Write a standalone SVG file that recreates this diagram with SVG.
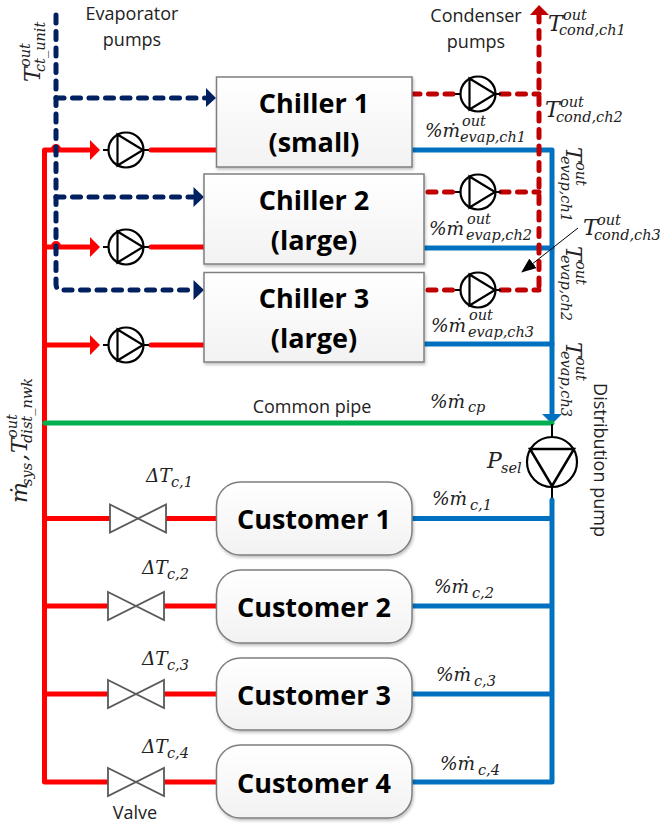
<svg xmlns="http://www.w3.org/2000/svg" width="660" height="825" viewBox="0 0 660 825">
<style>
.lbl{font-family:"Open Sans","Noto Sans",sans-serif;font-size:18px;fill:#222;text-anchor:middle}
.node{font-family:"Open Sans","Noto Sans",sans-serif;font-size:27px;font-weight:700;fill:#000;text-anchor:middle}
.m{font-family:"DejaVu Serif",serif;font-style:italic;font-size:22px;fill:#222}
.p{font-size:18.500px}
.s{font-size:14.500px}
.box{fill:url(#g);stroke:#7f7f7f;stroke-width:1.5;filter:url(#sh)}
.red{stroke:#f00;stroke-width:5;fill:none;stroke-linecap:round;stroke-linejoin:round}
.blue{stroke:#0070c0;stroke-width:5;fill:none;stroke-linecap:round;stroke-linejoin:round}
.navy{stroke:#002060;stroke-width:5;fill:none;stroke-dasharray:8 8.5;stroke-linecap:round}
.dk{stroke:#c00000;stroke-width:5;fill:none;stroke-dasharray:8 8.5;stroke-linecap:round}
.pump{fill:#fff;stroke:#000;stroke-width:2.2}
.stub{stroke:#000;stroke-width:2;fill:none}
.valve{fill:#fff;stroke:#595959;stroke-width:1.8}
</style>
<defs>
<linearGradient id="g" x1="0" y1="0" x2="0" y2="1"><stop offset="0" stop-color="#fff"/><stop offset="1" stop-color="#f2f2f2"/></linearGradient>
<filter id="sh" x="-5%" y="-5%" width="110%" height="115%"><feDropShadow dx="1" dy="2" stdDeviation="1.5" flood-color="#000" flood-opacity=".25"/></filter>
<marker id="blk" markerWidth="16" markerHeight="12" refX="14" refY="6" orient="auto" markerUnits="userSpaceOnUse"><path d="M0 0L15 6L0 12z" fill="#000"/></marker>
<g id="pumpR"><path class="stub" d="M-23 0H23"/><circle class="pump" r="17.5"/><path d="M-8.500-15.500L17 0L-8.500 15.500z" fill="none" stroke="#000" stroke-width="2.200"/></g>
<g id="valveS"><path class="valve" d="M-28-14L28 14V-14L-28 14z"/></g>
</defs>

<g id="connectors">
<path class="red" d="M89 150H44.500V782H108"/>
<path class="red" d="M44.500 247H89M44.500 345H89M44.500 518.500H110M44.500 606H108M44.500 694H108"/>
<path d="M51 149A5 5 0 0 1 61 149Z M51 246A5 5 0 0 1 61 246Z" fill="#f00"/>
<path d="M90 140L100 150L90 160z M90 237L100 247L90 257z M90 335L100 345L90 355z" fill="#f00"/>
<path class="red" d="M151 150H218M151 247H205M151 345H205"/>
<path class="red" d="M165 518.500H217M163 606H217M163 694H217M163 782H217"/>

<path class="navy" d="M56 15V284Q56 290 62 290H190"/>
<path class="navy" d="M56 98H205"/>
<path class="navy" d="M56 197H193"/>
<path d="M206 88L216 98L206 107z M193.500 187L204 197L193.500 207z M193.500 280L204 290L193.500 300z" fill="#002060"/>

<path class="blue" d="M411 150H552V418"/>
<path class="blue" d="M423 248H552M423 344H552"/>
<path class="blue" d="M552 500V782M411 518.500H552M411 606H552M411 694H552M411 782H552"/>
<path d="M542 414H562L552 424z" fill="#0070c0"/>
<path stroke="#00b050" stroke-width="5" stroke-linecap="round" fill="none" d="M45 423H552"/>

<path class="dk" d="M539 14V290"/>
<path class="dk" d="M412 94H455M501 94H539M428 192H455M501 192H539M428 290H455M501 290H539"/>
<path d="M530 15L539 5L549 15z" fill="#c00000"/>
<path class="stub" d="M552 424V437M552 487V498"/>
<path stroke="#000" stroke-width="1" fill="none" marker-end="url(#blk)" d="M578 228L522 272"/>
</g>

<g id="pump-e1"><use href="#pumpR" x="126" y="150"/></g>
<g id="pump-e2"><use href="#pumpR" x="126" y="247"/></g>
<g id="pump-e3"><use href="#pumpR" x="126" y="345"/></g>
<g id="pump-c1"><use href="#pumpR" x="478" y="94"/></g>
<g id="pump-c2"><use href="#pumpR" x="478" y="192"/></g>
<g id="pump-c3"><use href="#pumpR" x="478" y="290"/></g>
<g id="pump-dist"><circle class="pump" cx="552" cy="462" r="25"/><path d="M530 449H574L552 486z" fill="none" stroke="#000" stroke-width="2.500"/></g>

<g id="valve1"><use href="#valveS" x="138" y="518.500"/></g>
<g id="valve2"><use href="#valveS" x="136" y="606"/></g>
<g id="valve3"><use href="#valveS" x="136" y="694"/></g>
<g id="valve4"><use href="#valveS" x="136" y="782"/></g>

<g id="chiller1"><rect class="box" x="216.500" y="77" width="195.500" height="90"/><text class="node" x="314" y="113">Chiller 1</text><text class="node" x="314" y="152">(small)</text></g>
<g id="chiller2"><rect class="box" x="204" y="174" width="220" height="90"/><text class="node" x="314" y="210">Chiller 2</text><text class="node" x="314" y="250">(large)</text></g>
<g id="chiller3"><rect class="box" x="204" y="272.500" width="220" height="89.500"/><text class="node" x="314" y="308">Chiller 3</text><text class="node" x="314" y="348">(large)</text></g>

<g id="customer1"><rect class="box" x="216.500" y="482" width="195.500" height="73" rx="24"/><text class="node" x="314" y="529">Customer 1</text></g>
<g id="customer2"><rect class="box" x="216.500" y="570" width="195.500" height="73" rx="24"/><text class="node" x="314" y="617">Customer 2</text></g>
<g id="customer3"><rect class="box" x="216.500" y="658" width="195.500" height="72" rx="24"/><text class="node" x="314" y="705">Customer 3</text></g>
<g id="customer4"><rect class="box" x="216.500" y="745" width="195.500" height="73" rx="24"/><text class="node" x="314" y="793">Customer 4</text></g>

<g id="labels">
<text class="lbl" x="132" y="20">Evaporator</text><text class="lbl" x="132" y="46">pumps</text>
<text class="lbl" x="476" y="22">Condenser</text><text class="lbl" x="476" y="48">pumps</text>
<text class="lbl" x="312" y="413">Common pipe</text>
<text class="lbl" x="135" y="819">Valve</text>
<text class="lbl" transform="translate(594 460) rotate(90)">Distribution pump</text>

<text class="m" x="548" y="31">T<tspan class="s" x="563" y="20">out</tspan><tspan class="s" x="559" y="35">cond,ch1</tspan></text>
<text class="m" x="545" y="117">T<tspan class="s" x="560" y="107">out</tspan><tspan class="s" x="556" y="122">cond,ch2</tspan></text>
<text class="m" x="583" y="235">T<tspan class="s" x="597" y="225">out</tspan><tspan class="s" x="594" y="240">cond,ch3</tspan></text>

<text class="m p" x="425" y="137">%ṁ<tspan class="s" x="462" y="126">out</tspan><tspan class="s" x="460" y="142">evap,ch1</tspan></text>
<text class="m p" x="429" y="235">%ṁ<tspan class="s" x="467" y="224">out</tspan><tspan class="s" x="466" y="240">evap,ch2</tspan></text>
<text class="m p" x="431" y="332">%ṁ<tspan class="s" x="469" y="320">out</tspan><tspan class="s" x="468" y="337">evap,ch3</tspan></text>
<text class="m p" x="430" y="408">%ṁ<tspan class="s" x="468" y="412">cp</tspan></text>
<text class="m p" x="432" y="505">%ṁ<tspan class="s" x="470" y="510">c,1</tspan></text>
<text class="m p" x="434" y="593">%ṁ<tspan class="s" x="472" y="598">c,2</tspan></text>
<text class="m p" x="436" y="681">%ṁ<tspan class="s" x="474" y="686">c,3</tspan></text>
<text class="m p" x="440" y="770">%ṁ<tspan class="s" x="478" y="775">c,4</tspan></text>
<text class="m" x="487" y="468">P<tspan class="s" x="501" y="473">sel</tspan></text>
<text class="m p" x="146" y="482">ΔT<tspan class="s" x="171" y="487">c,1</tspan></text>
<text class="m p" x="142" y="574">ΔT<tspan class="s" x="167" y="579">c,2</tspan></text>
<text class="m p" x="142" y="665">ΔT<tspan class="s" x="167" y="670">c,3</tspan></text>
<text class="m p" x="142" y="753">ΔT<tspan class="s" x="167" y="758">c,4</tspan></text>

<text class="m" transform="translate(40 82) rotate(-90)">T<tspan class="s" x="15" y="-10">out</tspan><tspan class="s" x="10" y="5">ct_unit</tspan></text>
<text class="m" transform="translate(566 147) rotate(90)">T<tspan class="s" x="15" y="-10">out</tspan><tspan class="s" x="9" y="5">evap,ch1</tspan></text>
<text class="m" transform="translate(566 246) rotate(90)">T<tspan class="s" x="15" y="-10">out</tspan><tspan class="s" x="9" y="5">evap,ch2</tspan></text>
<text class="m" transform="translate(566 342) rotate(90)">T<tspan class="s" x="15" y="-10">out</tspan><tspan class="s" x="9" y="5">evap,ch3</tspan></text>
<text class="m" transform="translate(27 503) rotate(-90)">ṁ<tspan class="s" x="17" y="5">sys</tspan><tspan x="42" y="0">,</tspan><tspan x="50" y="0">T</tspan><tspan class="s" x="65" y="-10">out</tspan><tspan class="s" x="60" y="5">dist_nwk</tspan></text>
</g>
</svg>
